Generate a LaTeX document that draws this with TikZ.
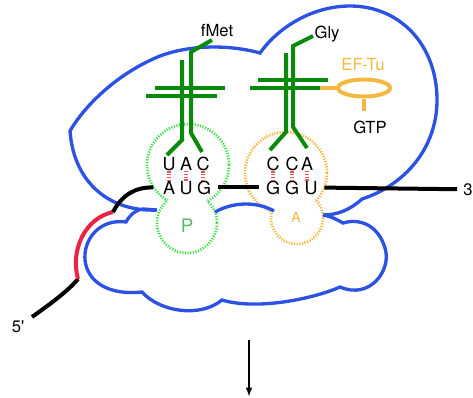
\documentclass[tikz,border=0pt]{standalone}
\usepackage{fontspec}
\setmainfont{TeX Gyre Heros}
\usepackage{xcolor}
\usetikzlibrary{arrows.meta,shapes.geometric}
\definecolor{ribo}{HTML}{2C52E3}
\definecolor{trna}{HTML}{0A8A0A}
\definecolor{efcol}{HTML}{F5B841}
\definecolor{pcol}{HTML}{3DE047}
\definecolor{acol}{HTML}{F7B43A}
\definecolor{sdred}{HTML}{EE2244}
\definecolor{pairred}{HTML}{EC5058}
\definecolor{plabel}{HTML}{5DB56C}
\tikzset{
    subunit/.style={draw=ribo, line width=2.5pt},
    strand/.style={draw=trna, line width=3pt},
    mrna/.style={draw=black, line width=3pt},
    efline/.style={draw=efcol, line width=3pt},
    sitering/.style={line width=2pt, dash pattern=on 0.9pt off 1.1pt},
    hbond/.style={draw=pairred, line width=2.4pt, dash pattern=on 0.9pt off 1.2pt},
    nt/.style={font=\fontsize{13.5}{16}\selectfont, inner sep=0pt, anchor=base},
    lbl/.style={font=\fontsize{12.5}{15}\selectfont, inner sep=0pt, anchor=base}
}

\begin{document}
\begin{tikzpicture}[x=0.75pt, y=-0.75pt]
    \useasboundingbox (0,0) rectangle (473,397);

    % P and A sites (outer outline of two overlapping rings)
    \begin{scope}[even odd rule]
        \clip (187,223) circle (30) (0,0) rectangle (473,397);
        \draw[sitering, pcol] (188,165) circle (41);
    \end{scope}
    \begin{scope}[even odd rule]
        \clip (188,165) circle (41) (0,0) rectangle (473,397);
        \draw[sitering, pcol] (187,223) circle (30);
    \end{scope}
    \begin{scope}[even odd rule]
        \clip (297,218) circle (26) (0,0) rectangle (473,397);
        \draw[sitering, acol] (286,173) circle (41);
    \end{scope}
    \begin{scope}[even odd rule]
        \clip (286,173) circle (41) (0,0) rectangle (473,397);
        \draw[sitering, acol] (297,218) circle (26);
    \end{scope}
    \node[font=\fontsize{14}{16}\selectfont, text=plabel, inner sep=0pt, anchor=base] (psite) at (187,232) {P};
    \node[font=\fontsize{10.5}{12}\selectfont, text=acol, inner sep=0pt, anchor=base] (asite) at (296,222) {A};

    % large subunit
    \draw[subunit] (157,210) .. controls (112,212) and (74,185) .. (70,131)
        .. controls (85,105) and (118,73) .. (160,56)
        .. controls (195,43) and (235,46) .. (260,53)
        .. controls (280,25) and (315,6) .. (350,6)
        .. controls (400,6) and (437,45) .. (437,100)
        .. controls (437,148) and (405,185) .. (362,199)
        .. controls (350,210) and (337,215) .. (323,215);

    % small subunit
    \draw[subunit] (157,210) -- (143,209) .. controls (135,210) and (130,215) .. (126,222)
        .. controls (75,215) and (62,300) .. (142,292)
        .. controls (160,312) and (200,318) .. (222,300)
        .. controls (255,310) and (310,300) .. (340,287)
        .. controls (370,300) and (392,270) .. (385,248)
        .. controls (378,225) and (360,218) .. (343,223)
        .. controls (336,219) and (330,216) .. (323,215);
    \draw[subunit] (215,212) .. controls (235,201) and (258,202) .. (274,211);

    % anticodons and codons
    \foreach \name/\x/\ltr in {ac1/169/U, ac2/186/A, ac3/203/C, ac4/273/C, ac5/292/C, ac6/307/A}
        \node[nt] (\name) at (\x,170) {\ltr};
    \foreach \name/\x/\ltr in {cd1/169/A, cd2/186/U, cd3/204/G, cd4/273/G, cd5/292/G, cd6/311/U}
        \node[nt, inner xsep=5pt] (\name) at (\x,194) {\ltr};
    \foreach \i in {1,...,6}
        \draw[hbond] ([yshift=-0.6pt]ac\i.south) -- (ac\i.south |- cd\i.north);

    % mRNA
    \node[lbl] (five) at (18,332) {5\textquotesingle};
    \node[lbl, inner xsep=4.5pt] (three) at (468,195) {3};
    \coordinate (m5) at (32,317);
    \draw[mrna] (m5) .. controls (50,304) and (67,292) .. (78,279) coordinate (sd1);
    \draw[mrna, draw=sdred] (sd1) .. controls (70,250) and (85,218) .. (113,212) coordinate (sd2);
    \draw[mrna] (sd2) .. controls (122,195) and (135,187) .. ([xshift=-2pt]cd1.west);
    \draw[mrna] (cd3.east) -- (cd4.west);
    \draw[mrna] (cd6.east) -- (three.west);

    % fMet tRNA
    \node[lbl] (fmet) at (217,36) {fMet};
    \draw[strand] (182,60) -- (182,140) -- (167,155);
    \draw[strand] (212,40) -- (191,52) -- (191,133) -- (202,152);
    \draw[strand] (155,88) -- (225,88);
    \draw[strand] (146,96) -- (217,96);

    % Gly tRNA with EF-Tu
    \node[lbl] (gly) at (327,38) {Gly};
    \draw[strand] (286,53) -- (286,132) -- (270,150);
    \draw[strand] (313,36) -- (293,46) -- (293,127) -- (307,148);
    \draw[strand] (258,80) -- (328,80);
    \draw[strand] (250,88) -- (320,88) coordinate (acc);
    \node[ellipse, draw=efcol, line width=3pt, minimum width=39pt, minimum height=12.75pt, inner sep=0pt] (eftu) at (364,88) {};
    \node[lbl, text=efcol] (eftulbl) at (363,70) {EF-Tu};
    \node[lbl] (gtp) at (370,133) {GTP};
    \draw[efline] (acc) -- (eftu.west);
    \draw[efline] (eftu.south) -- ([yshift=6.75pt]eftu.south |- gtp.north);

    % next step
    \coordinate (flowtop) at (249,340);
    \coordinate (flowend) at (249,397);
    \draw[-{Latex[length=7pt,width=5pt]}, line width=2.2pt] (flowtop) -- (flowend);
\end{tikzpicture}
\end{document}
